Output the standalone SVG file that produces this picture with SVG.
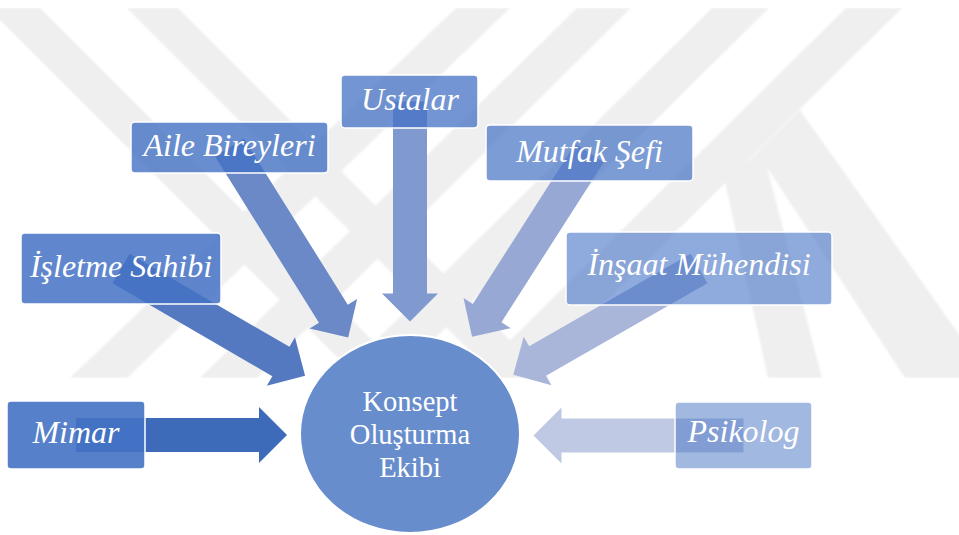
<svg xmlns="http://www.w3.org/2000/svg" width="959" height="535" viewBox="0 0 959 535">
  <defs>
    <clipPath id="wmclip"><rect x="0" y="8" width="959" height="370"/></clipPath>
    <filter id="soft" x="-5%" y="-5%" width="110%" height="110%"><feGaussianBlur stdDeviation="1.2"/></filter>
    <style>
      .wm { fill: #efefef; }
      .box { fill: #4472c4; stroke: #ffffff; stroke-width: 1.5; stroke-opacity: 1; }
      .lbl { font-family: "Liberation Serif", "Times New Roman", serif; font-style: italic; font-size: 32px; fill: #ffffff; text-anchor: middle; }
      .ctr { font-family: "Liberation Serif", "Times New Roman", serif; font-size: 28.5px; fill: #ffffff; text-anchor: middle; }
    </style>
  </defs>
  <rect width="959" height="535" fill="#ffffff"/>

  <!-- watermark -->
  <g id="watermark" clip-path="url(#wmclip)" filter="url(#soft)">
    <polygon class="wm" points="-12,8 40,8 410,378 358,378"/>
    <polygon class="wm" points="127,8 178,8 548,378 497,378"/>
    <polygon class="wm" points="456,8 510,8 127,378 70,378"/>
    <polygon class="wm" points="577,8 631,8 257,378 200,378"/>
    <polygon class="wm" points="712,8 769,8 395,378 338,378"/>
    <polygon class="wm" points="846,8 902,8 528,378 472,378"/>
    <polygon class="wm" points="725,182 762,148 822,378 768,378"/>
    <polygon class="wm" points="757,152 800,110 990,378 905,378"/>
  </g>

  <!-- connectors -->
  <g id="connectors">
    <polygon fill="#3e6bb9" transform="translate(76,435) rotate(0)" points="0,-17 183,-17 183,-28 211,0 183,28 183,17 0,17"/>
    <polygon fill="#5479c1" transform="translate(121,268.5) rotate(30.2)" points="0,-17 185,-17 185,-28 213,0 185,28 185,17 0,17"/>
    <polygon fill="#6a89c6" transform="translate(229.5,147.5) rotate(58)" points="0,-17 196,-17 196,-28 224,0 196,28 196,17 0,17"/>
    <polygon fill="#8099cf" transform="translate(410,101.5) rotate(90)" points="0,-17 192,-17 192,-28 220,0 192,28 192,17 0,17"/>
    <polygon fill="#97a8d4" transform="translate(589.5,153) rotate(122.6)" points="0,-17 190,-17 190,-28 218,0 190,28 190,17 0,17"/>
    <polygon fill="#a9b6da" transform="translate(699,268.5) rotate(150.2)" points="0,-17 186,-17 186,-28 214,0 186,28 186,17 0,17"/>
    <polygon fill="#bfc9e4" transform="translate(743.5,435.5) rotate(180)" points="0,-17 182,-17 182,-28 210,0 182,28 182,17 0,17"/>
  </g>

  <!-- nodes -->
  <g id="mimar">
    <rect class="box" x="7" y="401" width="138" height="68" rx="4" fill-opacity="0.9"/>
    <text class="lbl" x="76" y="443">Mimar</text>
  </g>
  <g id="isletme-sahibi">
    <rect class="box" x="21" y="233" width="200" height="71" rx="4" fill-opacity="0.85"/>
    <text class="lbl" x="121" y="277">İşletme Sahibi</text>
  </g>
  <g id="aile-bireyleri">
    <rect class="box" x="131" y="122" width="197" height="51" rx="4" fill-opacity="0.8"/>
    <text class="lbl" x="229.5" y="156">Aile Bireyleri</text>
  </g>
  <g id="ustalar">
    <rect class="box" x="341" y="75" width="137" height="53" rx="4" fill-opacity="0.75"/>
    <text class="lbl" x="410" y="110">Ustalar</text>
  </g>
  <g id="mutfak-sefi">
    <rect class="box" x="486" y="125" width="207" height="56" rx="4" fill-opacity="0.7"/>
    <text class="lbl" x="589.5" y="162">Mutfak Şefi</text>
  </g>
  <g id="insaat-muhendisi">
    <rect class="box" x="566" y="232" width="266" height="73" rx="4" fill-opacity="0.6"/>
    <text class="lbl" x="699" y="275">İnşaat Mühendisi</text>
  </g>
  <g id="psikolog">
    <rect class="box" x="675" y="402" width="137" height="67" rx="4" fill-opacity="0.5"/>
    <text class="lbl" x="743.5" y="442">Psikolog</text>
  </g>
  <g id="konsept">
    <ellipse cx="410" cy="434" rx="110" ry="99" fill="#678dcc" stroke="#ffffff" stroke-width="2"/>
    <text class="ctr" x="410" y="411">Konsept</text>
    <text class="ctr" x="410" y="444">Oluşturma</text>
    <text class="ctr" x="410" y="477">Ekibi</text>
  </g>
</svg>
